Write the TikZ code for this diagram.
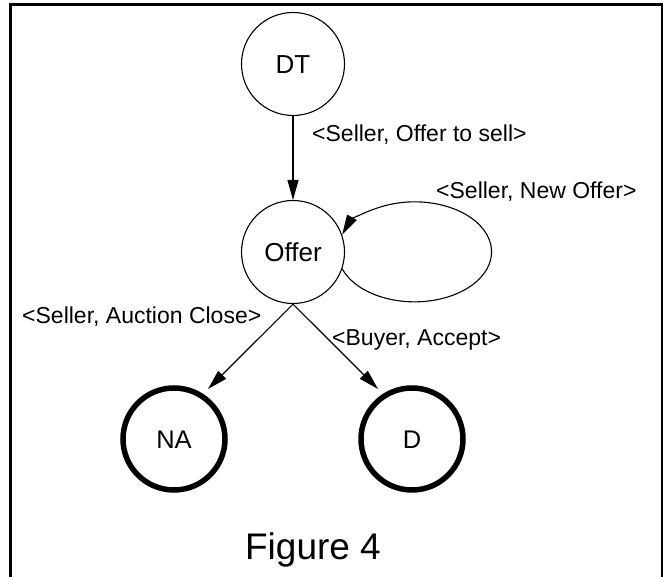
\documentclass[tikz,border=0pt]{standalone}
\usepackage{fontspec}
\setmainfont{Liberation Sans}
\usetikzlibrary{arrows.meta}
\begin{document}
\begin{tikzpicture}[x=1pt,y=1pt,
  state/.style={circle,draw,line width=1.1pt,minimum size=103pt,inner sep=0pt,
    font=\fontsize{26}{30}\selectfont,text height=18.5pt,text depth=0pt},
  final/.style={circle,draw,line width=5.5pt,minimum size=102pt,inner sep=0pt,
    font=\fontsize{25.5}{30}\selectfont,text height=18.3pt,text depth=0pt},
  lbl/.style={anchor=west,inner sep=0pt,font=\fontsize{23}{27}\selectfont,
    text height=16.4pt,text depth=0pt},
  arr/.style={line width=1.1pt,-{Triangle[length=20pt,width=11pt]}}]
\useasboundingbox (0,0) rectangle (663,577);
\draw[line width=3pt] (10.5,-20) -- (10.5,572.5) -- (662,572.5) -- (662,-20);
\node[state] (DT) at (293,513) {DT};
\node[state] (Offer) at (293,325) {Offer};
\node[final] (NA) at (174,138) {NA};
\node[final] (D) at (412,138) {D};
\coordinate (naTip) at (208,188);
\coordinate (dTip) at (378,188);
\draw[arr] (DT.south) -- (Offer.north);
\draw[arr] (Offer.south) -- (naTip);
\draw[arr] (Offer.south) -- (dTip);
\draw[arr] (Offer.-19) arc[start angle=200,end angle=520,x radius=77,y radius=50];
\node[lbl] (l1) at (312,444) {<Seller, Offer to sell>};
\node[lbl] (l2) at (436,387) {<Seller, New Offer>};
\node[lbl] (l3) at (22,262) {<Seller, Auction Close>};
\node[lbl] (l4) at (332,240) {<Buyer, Accept>};
\node[inner sep=0pt,font=\fontsize{37}{42}\selectfont,text height=26.5pt,text depth=0pt] (cap) at (313,31) {Figure 4};
\end{tikzpicture}
\end{document}
